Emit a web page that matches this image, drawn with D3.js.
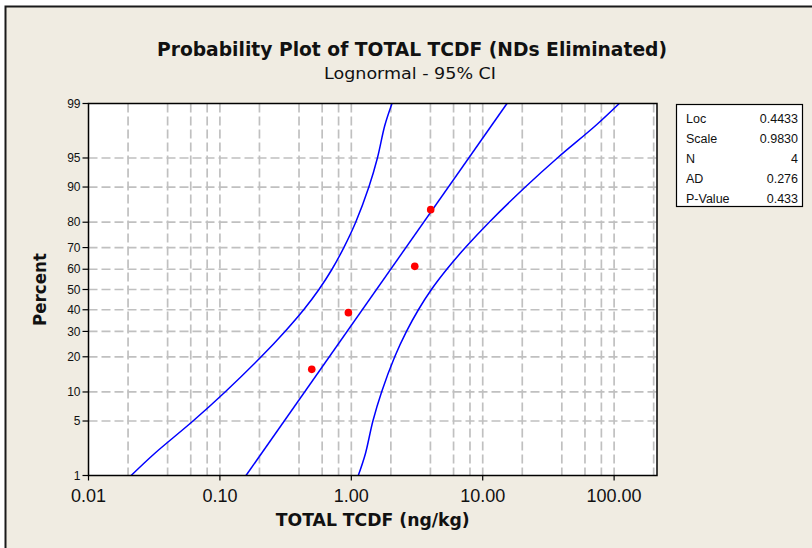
<!DOCTYPE html>
<html><head><meta charset="utf-8">
<script src="https://cdn.jsdelivr.net/npm/d3@7"></script>
<style>body{margin:0;background:#fff;} svg{display:block}</style>
</head><body><svg id="c" width="812" height="548"></svg>
<script>
// ---- data ----
const dataX = [0.50, 0.95, 3.04, 4.02];
const dataPct = [15.9, 38.6, 61.4, 84.1];
const fitPct = [1, 99];
const fitX = [0.158, 15.3];
const ciPct = [1, 2, 5, 10, 20, 30, 40, 50, 60, 70, 80, 90, 95, 98, 99];
const ciLower = [0.0211, 0.0317, 0.0624, 0.1095, 0.206, 0.313, 0.434, 0.567, 0.713, 0.877, 1.08, 1.36, 1.58, 1.80, 2.04];
const ciUpper = [1.13, 1.28, 1.46, 1.70, 2.14, 2.63, 3.24, 4.07, 5.33, 7.38, 11.2, 21.1, 37.0, 72.8, 109.4];
const yTicks = [1, 5, 10, 20, 30, 40, 50, 60, 70, 80, 90, 95, 99];
const yGrid = [5, 10, 20, 30, 40, 50, 60, 70, 80, 90, 95];
const xTicks = [0.01, 0.1, 1, 10, 100];
const xTickLabels = ["0.01", "0.10", "1.00", "10.00", "100.00"];
const xGrid = [0.02, 0.04, 0.06, 0.08, 0.1, 0.2, 0.4, 0.6, 0.8, 1, 2, 4, 6, 8, 10, 20, 40, 60, 80, 100, 200];
const statLabels = ["Loc", "Scale", "N", "AD", "P-Value"];
const statValues = ["0.4433", "0.9830", "4", "0.276", "0.433"];
const titleText = "Probability Plot of TOTAL TCDF (NDs Eliminated)";
const subtitleText = "Lognormal - 95% CI";
const xLabel = "TOTAL TCDF (ng/kg)";
const yLabel = "Percent";

// inverse normal CDF (Acklam) for the probability axis
function probit(p) {
  const a = [-3.969683028665376e+01, 2.209460984245205e+02, -2.759285104469687e+02, 1.383577518672690e+02, -3.066479806614716e+01, 2.506628277459239e+00];
  const b = [-5.447609879822406e+01, 1.615858368580409e+02, -1.556989798598866e+02, 6.680131188771972e+01, -1.328068155288572e+01];
  const c = [-7.784894002430293e-03, -3.223964580411365e-01, -2.400758277161838e+00, -2.549671669291814e+00, 4.374664141464968e+00, 2.938163982698783e+00];
  const d = [7.784695709041462e-03, 3.224671290700398e-01, 2.445134137142996e+00, 3.754408661907416e+00];
  const pl = 0.02425, ph = 1 - pl;
  let q, r;
  if (p < pl) { q = Math.sqrt(-2 * Math.log(p)); return (((((c[0]*q+c[1])*q+c[2])*q+c[3])*q+c[4])*q+c[5]) / ((((d[0]*q+d[1])*q+d[2])*q+d[3])*q+1); }
  if (p <= ph) { q = p - 0.5; r = q*q; return (((((a[0]*r+a[1])*r+a[2])*r+a[3])*r+a[4])*r+a[5])*q / (((((b[0]*r+b[1])*r+b[2])*r+b[3])*r+b[4])*r+1); }
  q = Math.sqrt(-2 * Math.log(1 - p)); return -(((((c[0]*q+c[1])*q+c[2])*q+c[3])*q+c[4])*q+c[5]) / ((((d[0]*q+d[1])*q+d[2])*q+d[3])*q+1);
}

const L = 88.5, R = 657, T = 103.5, B = 475.5;
const x = d3.scaleLog().domain([0.01, 212]).range([L, R]);
const zScale = d3.scaleLinear().domain([probit(0.01), probit(0.99)]).range([B, T]);
const y = pct => zScale(probit(pct / 100));

const svg = d3.select("#c");
const font = "'Liberation Sans', Arial, sans-serif";

// outer frame
svg.append("rect").attr("x", 0).attr("y", 0).attr("width", 812).attr("height", 548).attr("fill", "#ffffff");
svg.append("rect").attr("x", 5.5).attr("y", 6.5).attr("width", 830).attr("height", 560)
  .attr("fill", "#f0ece2").attr("stroke", "#1a1a1a").attr("stroke-width", 2);

// plot area
svg.append("rect").attr("x", L).attr("y", T).attr("width", R - L).attr("height", B - T).attr("fill", "#fff");

const grid = svg.append("g").attr("stroke", "#c0c0c0").attr("stroke-width", 1.7).attr("stroke-dasharray", "9,4");
grid.selectAll("line.v").data(xGrid.filter(v => x(v) < R - 1)).join("line")
  .attr("x1", d => x(d)).attr("x2", d => x(d)).attr("y1", T).attr("y2", B);
grid.selectAll("line.h").data(yGrid).join("line").attr("class", "h")
  .attr("x1", L).attr("x2", R).attr("y1", d => y(d)).attr("y2", d => y(d));

svg.append("defs").append("clipPath").attr("id", "clip").append("rect")
  .attr("x", L).attr("y", T).attr("width", R - L).attr("height", B - T);

const plot = svg.append("g").attr("clip-path", "url(#clip)");
const lineGen = d3.line().x(d => x(d[0])).y(d => y(d[1])).curve(d3.curveCatmullRom);
plot.append("path").datum(ciPct.map((p, i) => [ciLower[i], p])).attr("d", lineGen)
  .attr("fill", "none").attr("stroke", "#0000ff").attr("stroke-width", 1.5);
plot.append("path").datum(ciPct.map((p, i) => [ciUpper[i], p])).attr("d", lineGen)
  .attr("fill", "none").attr("stroke", "#0000ff").attr("stroke-width", 1.5);
plot.append("path").datum(fitPct.map((p, i) => [fitX[i], p])).attr("d", d3.line().x(d => x(d[0])).y(d => y(d[1])))
  .attr("fill", "none").attr("stroke", "#0000ff").attr("stroke-width", 1.5);

plot.selectAll("circle").data(dataX.map((v, i) => [v, dataPct[i]])).join("circle")
  .attr("cx", d => x(d[0])).attr("cy", d => y(d[1])).attr("r", 3.8).attr("fill", "#ff0000");

// border
svg.append("rect").attr("x", L).attr("y", T).attr("width", R - L).attr("height", B - T)
  .attr("fill", "none").attr("stroke", "#000").attr("stroke-width", 1.5);

// axes
const yAxis = svg.append("g").attr("transform", `translate(${L},0)`);
yAxis.selectAll("line").data(yTicks).join("line")
  .attr("x1", -6).attr("x2", 0).attr("y1", d => y(d)).attr("y2", d => y(d)).attr("stroke", "#000").attr("stroke-width", 1.2);
yAxis.selectAll("text").data(yTicks).join("text")
  .attr("x", -8).attr("y", d => y(d)).attr("dy", "0.35em").attr("text-anchor", "end")
  .attr("font-family", font).attr("font-size", 12).attr("fill", "#111").text(d => d);

const xAxis = svg.append("g").attr("transform", `translate(0,${B})`);
xAxis.selectAll("line").data(xTicks).join("line")
  .attr("x1", d => x(d)).attr("x2", d => x(d)).attr("y1", 0).attr("y2", 5).attr("stroke", "#000").attr("stroke-width", 1.2);
xAxis.selectAll("text").data(xTicks).join("text")
  .attr("x", d => x(d)).attr("y", 26).attr("text-anchor", "middle")
  .attr("font-family", font).attr("font-size", 18).attr("fill", "#111").text((d, i) => xTickLabels[i]);

// titles
svg.append("text").attr("x", 412).attr("y", 56).attr("text-anchor", "middle")
  .attr("font-family", "'DejaVu Sans', sans-serif").attr("font-weight", "bold").attr("font-size", 20)
  .attr("textLength", 510).attr("lengthAdjust", "spacingAndGlyphs").attr("fill", "#111").text(titleText);
svg.append("text").attr("x", 410).attr("y", 79).attr("text-anchor", "middle")
  .attr("font-family", "'DejaVu Sans', sans-serif").attr("font-size", 15)
  .attr("textLength", 172).attr("lengthAdjust", "spacingAndGlyphs").attr("fill", "#111").text(subtitleText);
svg.append("text").attr("x", (L + R) / 2).attr("y", 526).attr("text-anchor", "middle")
  .attr("font-family", "'DejaVu Sans', sans-serif").attr("font-weight", "bold").attr("font-size", 17)
  .attr("textLength", 194).attr("lengthAdjust", "spacingAndGlyphs").attr("fill", "#111").text(xLabel);
svg.append("text").attr("transform", `translate(46,${(T + B) / 2}) rotate(-90)`).attr("text-anchor", "middle")
  .attr("font-family", "'DejaVu Sans', sans-serif").attr("font-weight", "bold").attr("font-size", 17)
  .attr("textLength", 73).attr("lengthAdjust", "spacingAndGlyphs").attr("fill", "#111").text(yLabel);

// stats box
const box = svg.append("g");
box.append("rect").attr("x", 676.5).attr("y", 104.5).attr("width", 126).attr("height", 102)
  .attr("fill", "#fff").attr("stroke", "#000").attr("stroke-width", 1.2);
box.selectAll("text.l").data(statLabels).join("text").attr("class", "l")
  .attr("x", 686).attr("y", (d, i) => 123 + i * 20).attr("font-family", font).attr("font-size", 12.5).attr("fill", "#111").text(d => d);
box.selectAll("text.v").data(statValues).join("text").attr("class", "v")
  .attr("x", 798).attr("y", (d, i) => 123 + i * 20).attr("text-anchor", "end").attr("font-family", font).attr("font-size", 12.5).attr("fill", "#111").text(d => d);
</script></body></html>
